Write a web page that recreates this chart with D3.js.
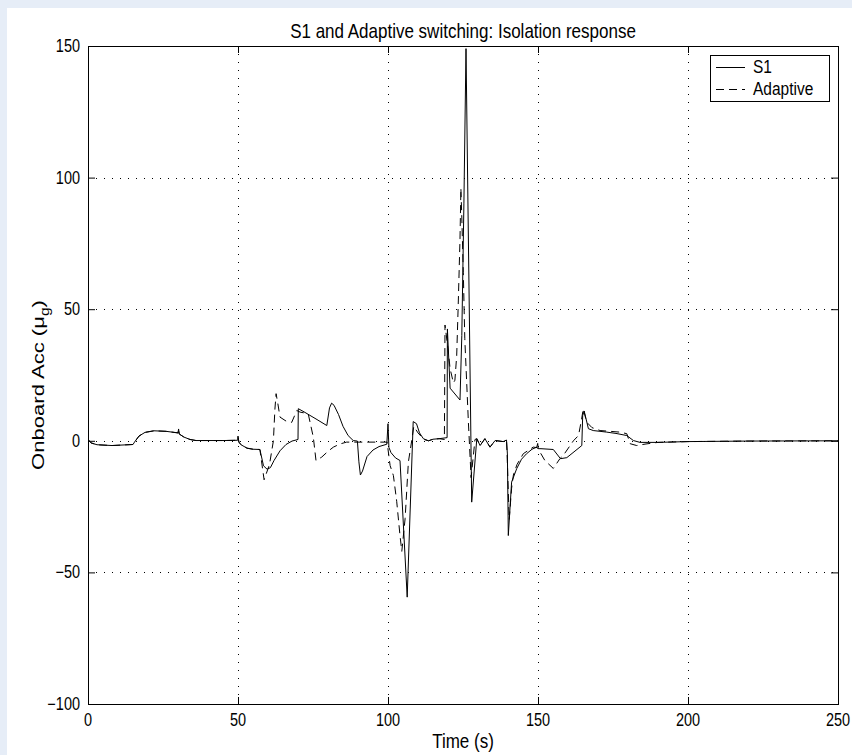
<!DOCTYPE html>
<html><head><meta charset="utf-8">
<script src="https://cdn.jsdelivr.net/npm/d3@7"></script>
<style>
body{margin:0;background:#e6edf7;}
svg{display:block;}
text{font-family:"Liberation Sans",Arial,Helvetica,sans-serif;fill:#000;}
</style></head><body><div id="chart"></div>
<script>
// ---- data ----
const xTicks = [0, 50, 100, 150, 200, 250];
const yTicks = [-100, -50, 0, 50, 100, 150];
const seriesNames = ["S1", "Adaptive"];

const s1Time = [0,1,3,8,15,15.5,17,19,22,26,30,30.2,30.4,32,34,36,45,49.9,50,50.3,51,53,55,57.3,58.5,59.7,60.8,62,64,66,68,70,70.1,72,76,79.6,80.5,81.2,82,83.5,85,86.7,88.4,89.8,90.3,90.8,91.5,93,95,97,99.6,100,100.3,101,102.5,104,106.4,108.4,109.5,110.5,111.8,113.5,115,117,119.7,119.8,120.7,124,124.6,125.3,126,127.9,129.6,130.7,132.3,134,135.7,138.4,139.5,139.8,140.1,141.2,142.9,144.5,146.2,148,149.6,149.9,150.1,151,155.1,157.5,159.6,162,164.6,164.9,165.4,166.8,168.4,172.9,176,179.6,181.8,184,190,200,220,250];
const s1Values = [0.5,-0.8,-1.5,-1.8,-1.4,-0.5,1.8,3.2,3.8,3.6,3.0,4.5,2.6,1.4,0.5,0.1,0.1,0.2,1.8,-0.5,-1.5,-2.8,-3.2,-3.3,-9.5,-10.8,-10.2,-7.5,-3.8,-1.4,-0.1,0.5,12.2,11,8.3,5.8,12.5,14.3,13.5,10,5.5,2,0.1,-0.1,-8,-13,-11.5,-6,-3.5,-2.2,-1.3,6.5,-2.5,-4.5,-6.5,-7.5,-59.4,7.3,6.5,3,0.8,0,0.6,0.8,1.2,42.5,20,15.5,40,90,149,-23.3,0.8,-1.8,0.8,-2.4,0.1,-0.3,0.3,-5,-36,-15.7,-10.6,-7,-4.9,-3.2,-2.4,-1,-3,-3,-3.3,-6.8,-6.4,-4.2,-1.8,9.6,11.3,4.6,3.9,3.3,2.8,2,0.1,-0.6,-0.6,-0.3,-0.1,0];

const adaptiveTime = [0,1,3,8,15,15.5,17,19,22,26,30,30.2,30.4,32,34,36,45,49.9,50,50.3,51,53,55,57.3,58.7,60.5,61.8,62.3,62.7,63.3,64,66,67.9,69.6,70.7,73.4,75.1,76,77.9,80,81.8,84,86.2,99.7,100.7,101.8,102.9,104,104.6,105.7,106.8,107.9,108.6,110,112,113.5,115,117,118.8,119,120,120.7,121.8,122.3,122.9,123.4,124,124.3,124.6,125.1,125.6,126.8,127.7,129,129.6,130.7,132.3,134,135.7,138.4,139.5,139.7,140.4,141.2,141.8,143,145.1,148.4,149.8,152.3,155.1,157.3,158.4,161.8,163.5,164.5,165.1,166.2,168,170.7,177.3,179.6,180.7,182.9,186,190,200,220,250];
const adaptiveValues = [0.5,-0.8,-1.5,-1.8,-1.4,-0.5,1.8,3.2,3.8,3.6,3.0,4.5,2.6,1.4,0.5,0.1,0.1,0.2,1.2,-0.5,-1.5,-2.8,-3.2,-3.3,-14.8,-9,0,12,17.9,14,9,7.5,7,11.5,10.9,10.3,1.4,-7.5,-6.2,-4,-2.4,-1.2,-0.5,-0.5,-9.4,-13.2,-23,-36,-42,-29.6,-8,0,5.5,3,0.5,0,0.6,0.8,0.5,44,35,27.4,22,23,32.4,51.4,76.7,96,85,64,38.8,7,-14,0.5,0.8,-1.8,0.8,-2.4,0.1,-0.3,0.3,-5,-30,-18,-13,-9,-4.9,-2.4,-2.6,-7.5,-10.5,-6.8,-5.6,0,2,8,12.2,7.1,5,3.9,3.3,2.7,-1.1,-1.8,-1.2,-0.6,-0.3,-0.1,0];

// ---- layout ----
const W = 852, H = 755;
const P = {left: 88, right: 838, top: 46, bottom: 704};
const SY = 1.22; // vertical stretch of all text in the reference
const DASH = '8,5';
const svg = d3.select('#chart').append('svg').attr('width', W).attr('height', H);
svg.append('rect').attr('x', 7).attr('y', 8).attr('width', W - 7).attr('height', H - 8).attr('fill', '#fff');

const x = d3.scaleLinear().domain([0, 250]).range([P.left, P.right]);
const y = d3.scaleLinear().domain([-100, 150]).range([P.bottom, P.top]);
const fmt = d3.format('d');

function label(g, tx, ty, str, size, anchor) {
  return g.append('text')
    .attr('transform', `translate(${tx},${ty}) scale(1,${SY})`)
    .attr('text-anchor', anchor).style('font-size', size + 'px').text(str);
}

// grid
const grid = svg.append('g').attr('stroke', '#000').attr('stroke-width', 1).attr('stroke-dasharray', '1,7');
grid.selectAll('line.gx').data(xTicks.slice(1, -1)).join('line')
  .attr('x1', d => Math.round(x(d)) + 0.5).attr('x2', d => Math.round(x(d)) + 0.5)
  .attr('y1', P.top).attr('y2', P.bottom);
grid.selectAll('line.gy').data(yTicks.slice(1, -1)).join('line')
  .attr('y1', d => Math.round(y(d)) + 0.5).attr('y2', d => Math.round(y(d)) + 0.5)
  .attr('x1', P.left).attr('x2', P.right);

// lines
svg.append('clipPath').attr('id', 'clip').append('rect')
  .attr('x', P.left).attr('y', P.top).attr('width', P.right - P.left).attr('height', P.bottom - P.top);
const line = d3.line().x(d => x(d[0])).y(d => y(d[1]));
const plot = svg.append('g').attr('clip-path', 'url(#clip)');
plot.append('path').datum(d3.zip(adaptiveTime, adaptiveValues)).attr('d', line)
  .attr('fill', 'none').attr('stroke', '#000').attr('stroke-width', 1).attr('stroke-dasharray', DASH);
plot.append('path').datum(d3.zip(s1Time, s1Values)).attr('d', line)
  .attr('fill', 'none').attr('stroke', '#000').attr('stroke-width', 1);

// axes (tick marks inward on all four sides)
const ax = (g) => { g.select('.domain').remove(); g.selectAll('line').attr('stroke', '#000'); g.selectAll('text').remove(); };
svg.append('g').attr('transform', `translate(0,${P.bottom})`)
  .call(d3.axisBottom(x).tickValues(xTicks).tickSizeInner(-7).tickSizeOuter(0)).call(ax);
svg.append('g').attr('transform', `translate(0,${P.top})`)
  .call(d3.axisTop(x).tickValues(xTicks).tickSizeInner(-7).tickSizeOuter(0)).call(ax);
svg.append('g').attr('transform', `translate(${P.left},0)`)
  .call(d3.axisLeft(y).tickValues(yTicks).tickSizeInner(-7).tickSizeOuter(0)).call(ax);
svg.append('g').attr('transform', `translate(${P.right},0)`)
  .call(d3.axisRight(y).tickValues(yTicks).tickSizeInner(-7).tickSizeOuter(0)).call(ax);
svg.append('rect').attr('x', P.left + 0.5).attr('y', P.top + 0.5)
  .attr('width', P.right - P.left).attr('height', P.bottom - P.top)
  .attr('fill', 'none').attr('stroke', '#000').attr('stroke-width', 1);

// tick labels
const tl = svg.append('g');
xTicks.forEach(v => label(tl, x(v), P.bottom + 22, fmt(v), 14.5, 'middle'));
yTicks.forEach(v => label(tl, P.left - 8, y(v) + 6, fmt(v), 14.5, 'end'));

// titles
label(svg, (P.left + P.right) / 2, 38, 'S1 and Adaptive switching: Isolation response', 17, 'middle');
label(svg, (P.left + P.right) / 2, 748, 'Time (s)', 17, 'middle');
const yl = svg.append('text')
  .attr('transform', `translate(44,${(P.top + P.bottom) / 2 + 10}) rotate(-90) scale(${SY + 0.08},1)`)
  .attr('text-anchor', 'middle').style('font-size', '17px');
yl.append('tspan').text('Onboard Acc (μ');
yl.append('tspan').attr('dy', 5).style('font-size', '12px').text('g');
yl.append('tspan').attr('dy', -5).text(')');

// legend
const L = {x1: 710, x2: 829, y1: 55, y2: 101};
const lg = svg.append('g');
lg.append('rect').attr('x', L.x1 + 0.5).attr('y', L.y1 + 0.5).attr('width', L.x2 - L.x1).attr('height', L.y2 - L.y1)
  .attr('fill', '#fff').attr('stroke', '#000');
const rows = [{name: seriesNames[0], dash: null, yy: 67}, {name: seriesNames[1], dash: DASH, yy: 89}];
rows.forEach(r => {
  lg.append('line').attr('x1', 716).attr('x2', 745).attr('y1', r.yy + 0.5).attr('y2', r.yy + 0.5)
    .attr('stroke', '#000').attr('stroke-dasharray', r.dash);
  label(lg, 753, r.yy + 6, r.name, 15.5, 'start');
});
</script></body></html>
